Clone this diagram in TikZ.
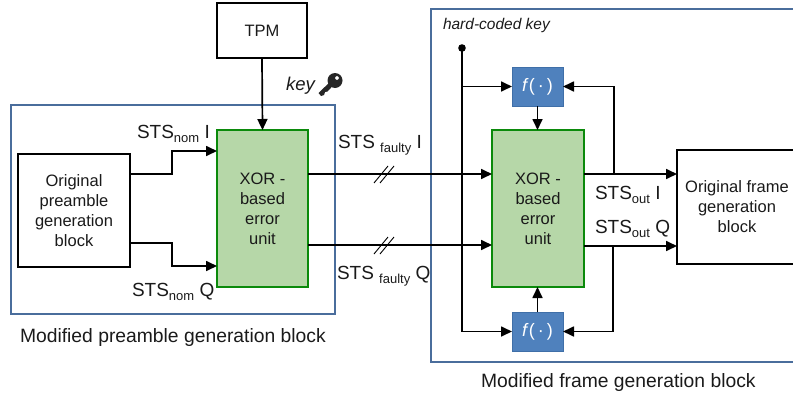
\documentclass[tikz,border=0pt]{standalone}
\usepackage{fontspec}
\setmainfont{Liberation Sans}
\usetikzlibrary{arrows.meta}
\definecolor{frameblue}{HTML}{4A6D9C}
\definecolor{xorfill}{HTML}{B6D7A8}
\definecolor{xorline}{HTML}{0B8A0B}
\definecolor{ffill}{HTML}{4F81BD}
\definecolor{fline}{HTML}{3F6FA8}
\definecolor{txt}{HTML}{1A1A1A}
\newcommand{\lowtxt}[1]{\raisebox{-4pt}{\fontsize{13}{13}\selectfont #1}}
\tikzset{
  x=1pt,y=-1pt,
  every node/.style={inner sep=0,outer sep=0,text=txt,font=\fontsize{16.5}{20}\selectfont},
  frame/.style={draw=frameblue,line width=1.3pt},
  blockbox/.style={draw=black,line width=1.6pt,fill=white,align=center,minimum width=#1},
  xorbox/.style={draw=xorline,line width=1.6pt,fill=xorfill,align=center,text=txt},
  fbox/.style={draw=fline,line width=1pt,fill=ffill,text=white,font=\fontsize{18}{20}\selectfont},
  wire/.style={draw=black,line width=1.7pt},
  arr/.style={wire,-{Triangle[length=11pt,width=10pt]}},
  tick/.style={draw=black,line width=.9pt},
  stslabel/.style={anchor=base west,font=\fontsize{19}{20}\selectfont},
  caption/.style={anchor=base west,font=\fontsize{19.3}{22}\selectfont},
}
\begin{document}
\begin{tikzpicture}
\useasboundingbox (0,0) rectangle (793,399);
% frames
\draw[frame] (11,105) rectangle (335,314);
\draw[frame] (431,9) rectangle (800,362);
% boxes
\node[blockbox=90pt,minimum height=55pt] (tpm) at (262,30.5) {TPM};
\node[blockbox=112pt,minimum height=113pt] (orig) at (74,210.5) {Original\\preamble\\generation\\block};
\node[draw=black,line width=1.6pt,fill=white,minimum width=125pt,minimum height=114pt,anchor=west] (frameblk) at (677,207) {};
\node[align=center] (frametxt) at (737,207) {Original frame\\generation\\block};
\node[xorbox,minimum width=91pt,minimum height=157pt] (xl) at (262.5,208.5) {XOR -\\based\\error\\unit};
\node[xorbox,minimum width=92pt,minimum height=157pt] (xr) at (538,208.5) {XOR -\\based\\error\\unit};
\node[fbox,minimum width=51pt,minimum height=39pt] (ft) at (537.5,86.5) {\textit{f}(\,·\,)};
\node[fbox,minimum width=51pt,minimum height=39pt] (fb) at (537.5,331.5) {\textit{f}(\,·\,)};
% coordinates
\coordinate (dot) at (462,48);
\coordinate (lowcorner) at (462,331.5);
\coordinate (topcorner) at (462,86.5);
\coordinate (oi) at (614,174);
\coordinate (oq) at (613,246);
% connectors
\draw[arr] (tpm.south) -- (xl.north);
\draw[arr] (orig.east |- 0,174) -- (172,174) -- (172,151) -- (xl.west |- 0,151);
\draw[arr] (orig.east |- 0,243) -- (172,243) -- (172,266) -- (xl.west |- 0,266);
\draw[arr] (xl.east |- 0,174) -- (xr.west |- 0,174);
\draw[arr] (xl.east |- 0,245) -- (xr.west |- 0,245);
\draw[tick] (374,183) -- (388,166);
\draw[tick] (380,183) -- (394,166);
\draw[tick] (374,254) -- (388,237);
\draw[tick] (380,254) -- (394,237);
\fill (dot) circle (3.8pt);
\draw[wire] (dot) -- (lowcorner);
\draw[arr] (topcorner) -- (ft.west);
\draw[arr] (lowcorner) -- (fb.west);
\draw[arr] (ft.south) -- (xr.north -| ft.south);
\draw[arr] (fb.north) -- (xr.south -| fb.north);
\draw[arr] (xr.east |- oi) -- (frameblk.west |- oi);
\draw[arr] (xr.east |- oq) -- (frameblk.west |- oq);
\draw[arr] (oi) -- (oi |- ft.east) -- (ft.east);
\draw[arr] (oq) -- (oq |- fb.east) -- (fb.east);
% key icon
\fill[black!85] (318.5,93) -- (321,96) -- (324,95) -- (325,92) -- (327.5,91.5) -- (334,84.5) -- (331,81) -- cycle;
\fill[black!85,even odd rule] (335,80.5) circle (7.5pt) (337,78) circle (2pt);
% labels
\node[stslabel] (l1) at (137,138) {STS\lowtxt{nom} I};
\node[stslabel] (l2) at (132,296) {STS\lowtxt{nom} Q};
\node[stslabel] (l3) at (338,148) {STS \lowtxt{faulty} I};
\node[stslabel] (l4) at (337,279) {STS \lowtxt{faulty} Q};
\node[stslabel] (l5) at (595,199) {STS\lowtxt{out} I};
\node[stslabel] (l6) at (595,233) {STS\lowtxt{out} Q};
\node[caption] (c1) at (20,342) {Modified preamble generation block};
\node[caption] (c2) at (481,387) {Modified frame generation block};
\node[anchor=base west,font=\fontsize{15.5}{17}\selectfont\itshape] (hk) at (443,29) {hard-coded key};
\node[anchor=base west,font=\fontsize{18.5}{20}\selectfont\itshape] (k) at (286,90) {key};
\end{tikzpicture}
\end{document}
